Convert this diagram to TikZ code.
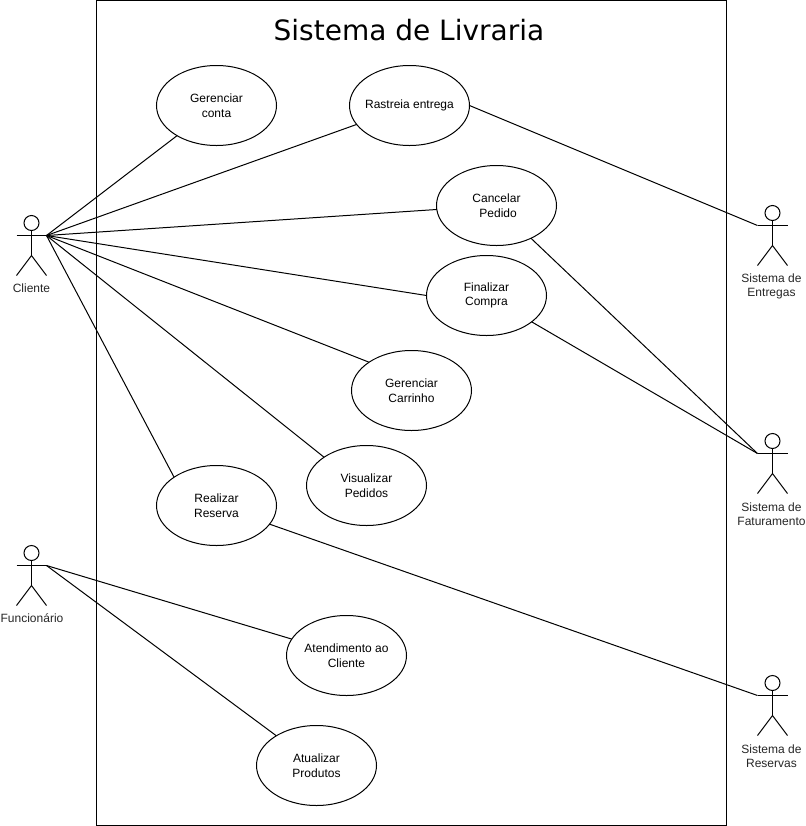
\documentclass[tikz,border=0pt]{standalone}
\usepackage{fontspec}
\setmainfont{Liberation Sans}
\newfontfamily\titlefont{DejaVu Sans}
\usetikzlibrary{shapes}

\begin{document}
\begin{tikzpicture}[
		x=.75pt,y=-.75pt,line width=.75pt,
		usecase/.style = {
			ellipse,draw,minimum width=90pt,minimum height=60pt,
			inner xsep=-4pt,inner ysep=0pt,outer sep=0pt,align=center,
			font=\fontsize{9pt}{11pt}\selectfont
		},
		actorlabel/.style = {
			align=center,inner sep=0pt,text=black!85,
			font=\fontsize{9pt}{10.5pt}\selectfont
		},
		actor/.pic = {
			\draw (0,7.5) circle[radius=5.625pt];
			\draw (0,15) -- (0,40) (-15,20) -- (15,20);
			\draw (-15,60) -- (0,40) -- (15,60);
			\coordinate (-l) at (-15,20);
			\coordinate (-r) at (15,20);
		}]
		\useasboundingbox (0,0) rectangle (806,826);
		\node[draw,minimum width=472.5pt,minimum height=618.75pt,inner sep=0pt,outer sep=0pt] (sistema) at (411.5,412.75) {};
		\node[inner sep=0pt,font=\titlefont\fontsize{21pt}{25pt}\selectfont] (titulo) at (409,30) {Sistema de Livraria};
		% casos de uso
		\node[usecase] (conta)       at (216.5,105.5) {Gerenciar\\conta};
		\node[usecase] (rastreia)    at (409.5,105.5) {Rastreia entrega};
		\node[usecase] (cancelar)    at (496.5,205.5) {Cancelar\ \\\ Pedido};
		\node[usecase] (finalizar)   at (486.5,295.5) {Finalizar\\Compra};
		\node[usecase] (carrinho)    at (411.5,390.5) {Gerenciar\\Carrinho};
		\node[usecase] (visualizar)  at (366.5,485.5) {Visualizar\\Pedidos};
		\node[usecase] (reserva)     at (216.5,505.5) {Realizar\\Reserva};
		\node[usecase] (atendimento) at (346.5,655.5) {Atendimento ao\\Cliente};
		\node[usecase] (produtos)    at (316.5,765.5) {Atualizar\\Produtos};
		% atores
		\pic (cliente)     at (31.5,215.5)  {actor};
		\pic (funcionario) at (31.5,545.5)  {actor};
		\pic (entregas)    at (772.5,205.5) {actor};
		\pic (faturamento) at (772.5,433.5) {actor};
		\pic (reservas)    at (772.5,675.5) {actor};
		\node[actorlabel] (lblcliente)     at (31.5,288.5)  {Cliente};
		\node[actorlabel] (lblfuncionario) at (32,618.5)  {Funcionário};
		\node[actorlabel] (lblentregas)    at (771.5,286) {Sistema de\\Entregas};
		\node[actorlabel] (lblfaturamento) at (771.5,514) {Sistema de\\Faturamento};
		\node[actorlabel] (lblreservas)    at (771.5,756) {Sistema de\\Reservas};
		% ligacoes
		\draw (cliente-r) -- (conta);
		\draw (cliente-r) -- (rastreia);
		\draw (cliente-r) -- (cancelar);
		\draw (cliente-r) -- (finalizar.west);
		\draw (cliente-r) -- (carrinho.north west);
		\draw (cliente-r) -- (visualizar.north west);
		\draw (cliente-r) -- (reserva.north west);
		\draw (funcionario-r) -- (atendimento);
		\draw (funcionario-r) -- (produtos);
		\draw (rastreia.east) -- (entregas-l);
		\draw (cancelar) -- (faturamento-l);
		\draw (finalizar) -- (faturamento-l);
		\draw (reserva) -- (reservas-l);
\end{tikzpicture}
\end{document}
